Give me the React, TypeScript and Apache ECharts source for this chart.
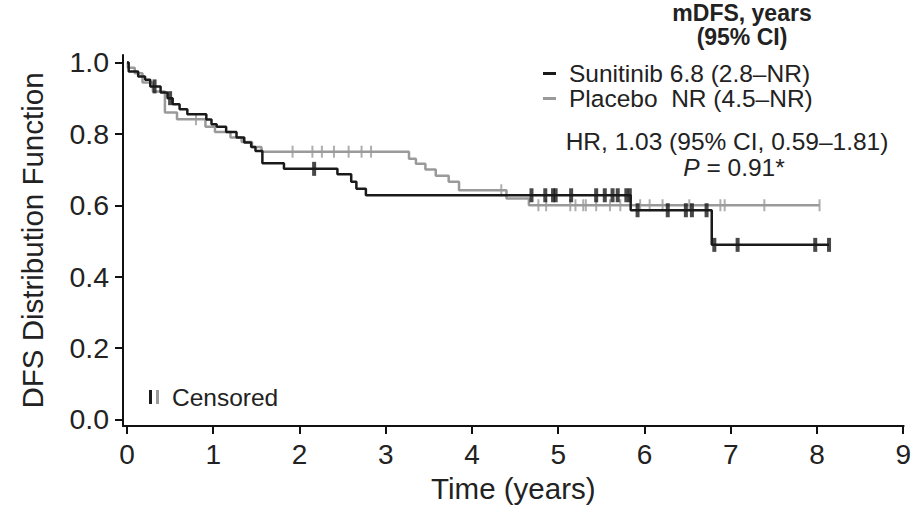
import React, { useEffect, useRef } from "react";
import * as echarts from "echarts";

// ---- data ----
const xTicks = [0, 1, 2, 3, 4, 5, 6, 7, 8, 9];
const yTicks = [0, 0.2, 0.4, 0.6, 0.8, 1.0];

const sunTimes = [0, 0.02, 0.13, 0.21, 0.27, 0.39, 0.47, 0.53, 0.61, 0.7, 0.92, 0.98, 1.04, 1.15, 1.27, 1.36, 1.44, 1.49, 1.57, 1.82, 2.44, 2.6, 2.66, 2.77, 5.84, 6.78, 8.14];
const sunSurv = [1.0, 0.975, 0.961, 0.952, 0.933, 0.916, 0.9, 0.883, 0.869, 0.855, 0.84, 0.827, 0.82, 0.805, 0.79, 0.776, 0.763, 0.752, 0.718, 0.702, 0.687, 0.666, 0.646, 0.628, 0.586, 0.489, 0.489];
const sunCensor = [0.32, 0.5, 2.17, 4.69, 4.85, 4.94, 4.97, 5.15, 5.44, 5.54, 5.63, 5.69, 5.79, 5.83, 5.92, 6.27, 6.48, 6.55, 6.72, 6.81, 7.08, 7.98, 8.14];

const plaTimes = [0, 0.01, 0.09, 0.18, 0.3, 0.44, 0.58, 0.91, 1.02, 1.2, 1.33, 1.45, 1.56, 3.27, 3.35, 3.46, 3.58, 3.73, 3.85, 4.4, 4.66, 8.03];
const plaSurv = [1.0, 0.985, 0.97, 0.944, 0.919, 0.86, 0.841, 0.82, 0.805, 0.79, 0.777, 0.763, 0.75, 0.73, 0.716, 0.7, 0.683, 0.666, 0.642, 0.619, 0.6, 0.6];
const plaCensor = [0.8, 1.92, 2.15, 2.26, 2.4, 2.57, 2.72, 2.83, 4.34, 4.77, 4.86, 5.14, 5.2, 5.29, 5.32, 5.44, 5.6, 5.72, 5.95, 6.06, 6.21, 6.52, 6.88, 6.93, 7.39, 8.03];

const seriesNames = ["Sunitinib", "Placebo"];
const legendLabels: Record<string, string> = {
  Sunitinib: "Sunitinib 6.8 (2.8\u2013NR)",
  Placebo: "Placebo  NR (4.5\u2013NR)",
};

const BLACK = "#1a1a1a";
const GREY = "#9a9a9a";
const FONT = "'Liberation Sans', Arial, Helvetica, sans-serif";

function stepAt(times: number[], surv: number[], t: number) {
  let v = surv[0];
  for (let i = 0; i < times.length; i++) {
    if (times[i] <= t) v = surv[i];
  }
  return v;
}

const zip = (a: number[], b: number[]) => a.map((t, i) => [t, b[i]]);

const centered = { textAlign: "center", textVerticalAlign: "middle", align: "center", verticalAlign: "middle" };

export default function App() {
  const ref = useRef<HTMLDivElement>(null);
  useEffect(() => {
    const chart = echarts.init(ref.current!, null, { renderer: "svg" });
    const option: any = {
      animation: false,
      backgroundColor: "#fff",
      textStyle: { fontFamily: FONT },
      grid: { left: 123, right: 7, top: 55, bottom: 79, containLabel: false },
      xAxis: {
        type: "value",
        min: -0.046,
        max: 9.005,
        axisLine: { show: true, onZero: false, lineStyle: { color: "#111", width: 2 } },
        axisTick: { show: true, length: 8, customValues: xTicks, lineStyle: { color: "#111", width: 2 } },
        axisLabel: { customValues: xTicks, fontSize: 28, color: "#222", margin: 14, fontFamily: FONT },
        splitLine: { show: false },
        name: "Time (years)",
        nameLocation: "middle",
        nameGap: 47,
        nameTextStyle: { fontSize: 29.5, color: "#222", fontFamily: FONT },
      },
      yAxis: {
        type: "value",
        min: -0.0185,
        max: 1.021,
        axisLine: { show: true, onZero: false, lineStyle: { color: "#111", width: 2 } },
        axisTick: { show: true, length: 8, customValues: yTicks, lineStyle: { color: "#111", width: 2 } },
        axisLabel: {
          customValues: yTicks,
          fontSize: 28.5,
          color: "#222",
          margin: 14,
          fontFamily: FONT,
          formatter: (v: number) => v.toFixed(1),
        },
        splitLine: { show: false },
        name: "DFS Distribution Function",
        nameLocation: "middle",
        nameRotate: 90,
        nameGap: 76,
        nameTextStyle: { fontSize: 29.5, color: "#222", fontFamily: FONT },
      },
      legend: {
        data: seriesNames.map((n) => ({ name: n, icon: "rect" })),
        orient: "vertical",
        left: 543,
        top: 61,
        itemWidth: 13,
        itemHeight: 3,
        itemGap: 0,
        padding: 0,
        selectedMode: false,
        formatter: (n: string) => legendLabels[n],
        textStyle: { fontSize: 24.5, lineHeight: 24, color: "#222", fontFamily: FONT, padding: [0, 0, 0, 8] },
      },
      series: [
        {
          name: "Placebo",
          type: "line",
          step: "end",
          data: zip(plaTimes, plaSurv),
          showSymbol: false,
          symbol: "none",
          color: GREY,
          lineStyle: { color: GREY, width: 2.5 },
          z: 2,
        },
        {
          name: "Placebo censored",
          type: "scatter",
          data: plaCensor.map((t) => [t, stepAt(plaTimes, plaSurv, t)]),
          symbol: "rect",
          symbolSize: [2, 12],
          itemStyle: { color: GREY },
          z: 3,
        },
        {
          name: "Sunitinib",
          type: "line",
          step: "end",
          data: zip(sunTimes, sunSurv),
          showSymbol: false,
          symbol: "none",
          color: BLACK,
          lineStyle: { color: BLACK, width: 2.5 },
          z: 4,
        },
        {
          name: "Sunitinib censored",
          type: "scatter",
          data: sunCensor.map((t) => [t, stepAt(sunTimes, sunSurv, t)]),
          symbol: "rect",
          symbolSize: [4, 14],
          itemStyle: { color: BLACK },
          z: 5,
        },
      ],
      graphic: [
        {
          type: "text",
          x: 742,
          y: 13,
          style: { text: "mDFS, years", fill: "#222", font: `bold 23px ${FONT}`, ...centered },
        },
        {
          type: "text",
          x: 742,
          y: 37,
          style: { text: "(95% CI)", fill: "#222", font: `bold 23px ${FONT}`, ...centered },
        },
        {
          type: "text",
          x: 727,
          y: 141,
          style: {
            text: "HR, 1.03 (95% CI, 0.59\u20131.81)",
            fill: "#222",
            font: `24.5px ${FONT}`,
            ...centered,
          },
        },
        {
          type: "text",
          x: 734,
          y: 167,
          style: {
            text: "{i|P} = 0.91*",
            fill: "#222",
            fontSize: 24.5,
            fontFamily: FONT,
            ...centered,
            rich: { i: { fontStyle: "italic", fontSize: 24.5, fontFamily: FONT, fill: "#222" } },
          },
        },
        { type: "rect", shape: { x: 149, y: 390, width: 3, height: 14 }, style: { fill: BLACK } },
        { type: "rect", shape: { x: 156, y: 390, width: 3, height: 14 }, style: { fill: GREY } },
        {
          type: "text",
          x: 172,
          y: 397,
          style: {
            text: "Censored",
            fill: "#222",
            font: `24.5px ${FONT}`,
            textAlign: "left",
            textVerticalAlign: "middle",
            align: "left",
            verticalAlign: "middle",
          },
        },
      ],
    };
    chart.setOption(option);
    return () => chart.dispose();
  }, []);
  return (
    <div
      ref={ref}
      style={{ position: "absolute", left: 0, top: 0, width: 914, height: 508 }}
    />
  );
}
